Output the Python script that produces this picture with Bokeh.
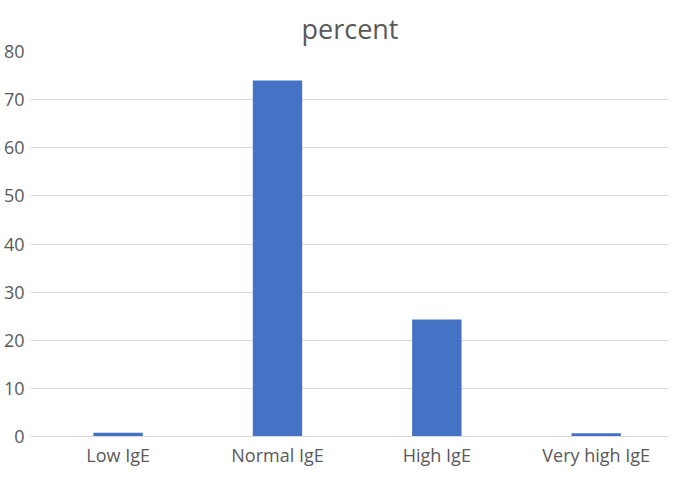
from bokeh.plotting import figure
from bokeh.models import Range1d, FixedTicker, ColumnDataSource
from bokeh.embed import file_html
from bokeh.resources import INLINE

title_text = "percent"
categories = ["Low IgE", "Normal IgE", "High IgE", "Very high IgE"]
percent = [0.8, 74.0, 24.3, 0.7]
y_ticks = [0, 10, 20, 30, 40, 50, 60, 70, 80]

xs = [i + 0.5 for i in range(len(categories))]
src = ColumnDataSource(dict(x=xs, top=percent, cat=categories))

p = figure(width=669, height=469, output_backend="svg", toolbar_location=None,
           x_range=Range1d(-0.05, 3.96), y_range=Range1d(0, 80),
           title=title_text)
p.min_border_left = 0
p.min_border_right = 0
p.min_border_top = 51
p.min_border_bottom = 0
p.outline_line_color = None
p.background_fill_color = "white"
p.border_fill_color = "white"

p.title.align = "center"
p.title.vertical_align = "top"
p.title.text_baseline = "middle"
p.title.text_font = "Open Sans"
p.title.text_font_size = "27px"
p.title.text_font_style = "normal"
p.title.text_color = "#595959"
p.title.standoff = 6

p.vbar(x="x", top="top", width=0.31, bottom=0, source=src,
       fill_color="#4472C4", line_color=None)

for ax in (p.xaxis, p.yaxis):
    ax.major_tick_line_color = None
    ax.minor_tick_line_color = None
    ax.major_tick_out = 0
    ax.major_tick_in = 0
    ax.minor_tick_out = 0
    ax.minor_tick_in = 0
    ax.axis_label_standoff = 0
    ax.major_label_text_font = "Open Sans"
    ax.major_label_text_font_size = "18px"
    ax.major_label_text_color = "#595959"

p.xaxis.ticker = FixedTicker(ticks=xs)
p.xaxis.major_label_overrides = {x: c for x, c in zip(xs, categories)}
p.xaxis.axis_line_color = "#d9d9d9"
p.xaxis.axis_line_width = 1
p.xaxis.major_label_standoff = 6

p.yaxis.ticker = FixedTicker(ticks=y_ticks)
p.yaxis.axis_line_color = None
p.yaxis.major_label_standoff = 6

p.xgrid.grid_line_color = None
p.ygrid.grid_line_color = "#d9d9d9"
p.ygrid.grid_line_width = 1

open("out.html", "w").write(file_html(p, INLINE))
